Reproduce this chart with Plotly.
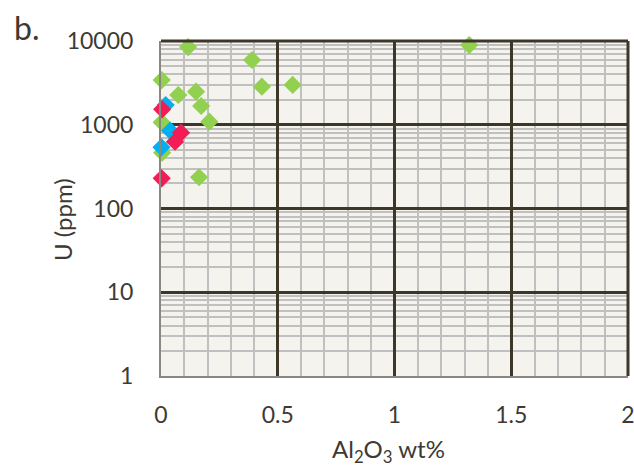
import plotly.graph_objects as go

# Data (Al2O3 wt%, U ppm)
green_x = [0.116, 0.39, 0.432, 0.564, 1.32, 0.003, 0.074, 0.15, 0.172, 0.207, 0.003, 0.005, 0.163]
green_y = [8470, 5930, 2850, 2985, 8950, 3420, 2265, 2483, 1675, 1088, 1070, 464, 236]
blue_x = [0.02, 0.039, 0.002]
blue_y = [1720, 850, 537]
red_x = [0.005, 0.086, 0.06, 0.003]
red_y = [1530, 804, 628, 229]

x_ticks = [0, 0.5, 1, 1.5, 2]
x_tick_text = ["0", "0.5", "1", "1.5", "2"]
y_ticks = [1, 10, 100, 1000, 10000]
y_tick_text = ["1", "10", "100", "1000", "10000"]

FONT = "Lato"
TXT = "#3d3a33"
MAJOR = "#3d3729"
MINOR = "#c0c0c0"
FS = 23

L, R, T, B, W, H = 161, 6, 41, 93, 634, 469
PW, PH = W - L - R, H - T - B


def px_x(px):
    return (px - L) / PW


def px_y(py):
    return (H - B - py) / PH


fig = go.Figure()
for xs, ys, col in [(green_x, green_y, "#92d050"), (blue_x, blue_y, "#00b0f0"), (red_x, red_y, "#f21d56")]:
    fig.add_trace(go.Scatter(x=xs, y=ys, mode="markers", cliponaxis=False,
                             marker=dict(symbol="diamond", size=14, color=col, line=dict(width=0)),
                             showlegend=False))

fig.update_layout(
    width=W, height=H,
    margin=dict(l=L, r=R, t=T, b=B, autoexpand=False),
    paper_bgcolor="white", plot_bgcolor="#f4f3ee",
    font=dict(family=FONT, color=TXT, size=FS),
    xaxis=dict(range=[0, 2], tickvals=x_ticks, ticktext=x_tick_text, automargin=False,
               showgrid=True, gridcolor=MAJOR, gridwidth=3,
               minor=dict(dtick=0.1, showgrid=True, gridcolor=MINOR, gridwidth=2),
               zeroline=False, showline=True, linecolor="#8a8680", linewidth=2, mirror=False,
               ticks="", ticklabelstandoff=17, ticklabeloverflow="allow",
               tickfont=dict(size=FS)),
    yaxis=dict(type="log", range=[0, 4], tickvals=y_ticks, ticktext=y_tick_text, automargin=False,
               showgrid=True, gridcolor=MAJOR, gridwidth=3,
               minor=dict(dtick="D1", showgrid=True, gridcolor=MINOR, gridwidth=2),
               zeroline=False, showline=True, linecolor="#8a8680", linewidth=2,
               ticks="", ticklabelstandoff=21, ticklabeloverflow="allow",
               tickfont=dict(size=FS)),
    shapes=[
        dict(type="line", xref="paper", yref="paper", x0=0, x1=1, y0=1, y1=1,
             line=dict(color=MAJOR, width=3)),
        dict(type="line", xref="paper", yref="paper", x0=1, x1=1, y0=0, y1=1,
             line=dict(color=MAJOR, width=3)),
    ],
    annotations=[
        dict(text="b.", xref="paper", yref="paper", x=px_x(12), y=px_y(6),
             xanchor="left", yanchor="top", showarrow=False, font=dict(size=32, color=TXT)),
        dict(text="U (ppm)", xref="paper", yref="paper", x=px_x(62), y=px_y(220),
             xanchor="center", yanchor="middle", textangle=-90, showarrow=False,
             font=dict(size=24, color=TXT)),
        dict(text="Al<sub>2</sub>O<sub>3</sub> wt%", xref="paper", yref="paper", x=px_x(388), y=px_y(450),
             xanchor="center", yanchor="middle", showarrow=False, font=dict(size=24, color=TXT)),
    ],
)
fig.write_html("out.html", config={"displayModeBar": False},
               post_script="document.body.style.margin='0';document.body.style.overflow='hidden';")
